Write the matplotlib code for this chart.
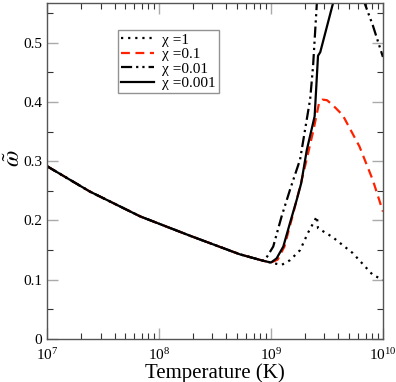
import matplotlib
matplotlib.use('Agg')
import numpy as np
import matplotlib.pyplot as plt
from matplotlib.ticker import LogLocator, MultipleLocator

plt.rcParams['font.family'] = ['Liberation Serif', 'DejaVu Serif']
plt.rcParams['mathtext.fontset'] = 'stix'

# common low-temperature branch (log10 T, omega)
trunk_logT = [7.0, 7.38, 7.83, 8.28, 8.72, 8.93]
trunk_w = [0.2915, 0.249, 0.207, 0.174, 0.143, 0.132]

# chi = 1
c1_logT = [9.02, 9.095, 9.17, 9.26, 9.33, 9.41, 9.42, 9.55, 9.73, 9.91, 10.0]
c1_w = [0.128, 0.125, 0.133, 0.150, 0.179, 0.207, 0.187, 0.172, 0.145, 0.108, 0.10]

# chi = 0.1
c2_logT = [9.0, 9.06, 9.12, 9.2, 9.29, 9.38, 9.43, 9.46, 9.5, 9.55, 9.64, 9.79, 9.91, 10.0]
c2_w = [0.129, 0.134, 0.156, 0.213, 0.28, 0.353, 0.399, 0.404, 0.403, 0.395, 0.378, 0.325, 0.268, 0.215]

# chi = 0.01
c3_logT = [8.946, 9.02, 9.095, 9.17, 9.26, 9.35, 9.376, 9.41, 9.6, 9.75, 9.83, 9.91, 10.0]
c3_w = [0.133, 0.156, 0.207, 0.252, 0.303, 0.405, 0.461, 0.568, 0.68, 0.64, 0.57, 0.529, 0.476]

# chi = 0.001
c4_logT = [9.0, 9.05, 9.11, 9.17, 9.23, 9.27, 9.32, 9.39, 9.42, 9.44, 9.556, 9.7]
c4_w = [0.129, 0.136, 0.156, 0.196, 0.235, 0.263, 0.319, 0.376, 0.478, 0.484, 0.568, 0.66]

labels = ['χ =1', 'χ =0.1', 'χ =0.01', 'χ =0.001']

def full(logT, w):
    x = np.concatenate([trunk_logT, logT])
    y = np.concatenate([trunk_w, w])
    return 10 ** x, y

fig = plt.figure(figsize=(3.96, 3.82), dpi=100)
ax = fig.add_axes([0.119, 0.1126, 0.848, 0.8795])

x, y = full(c1_logT, c1_w)
ax.plot(x, y, color='black', lw=1.6, ls=(0, (1, 2.2)), label=labels[0])
x, y = full(c2_logT, c2_w)
ax.plot(x, y, color='#ff2200', lw=1.6, ls=(0, (4, 2.5)), label=labels[1])
x, y = full(c3_logT, c3_w)
ax.plot(x, y, color='black', lw=1.6, ls=(0, (5, 1.8, 1, 1.8, 1, 1.8)), label=labels[2])
x, y = full(c4_logT, c4_w)
ax.plot(x, y, color='black', lw=1.6, ls='-', label=labels[3])

ax.set_xscale('log')
ax.set_xlim(1e7, 1e10)
ax.set_ylim(0, 0.567)
ax.xaxis.set_major_locator(LogLocator(base=10, numticks=10))
ax.xaxis.set_minor_locator(LogLocator(base=10, subs=np.arange(2, 10), numticks=10))
ax.yaxis.set_minor_locator(MultipleLocator(0.05))
ax.set_yticks([0, 0.1, 0.2, 0.3, 0.4, 0.5])
ax.set_yticklabels(['0', '0.1', '0.2', '0.3', '0.4', '0.5'])

ax.tick_params(which='both', direction='in', top=True, right=True, labelsize=11)
ax.tick_params(which='major', length=8, color='#aaaaaa', width=1)
ax.tick_params(which='minor', length=4, color='#333333', width=0.8)
ax.tick_params(axis='x', pad=6)
for sp in ax.spines.values():
    sp.set_color('#555555')
    sp.set_linewidth(1)

ax.set_xlabel('Temperature (K)', fontsize=15, labelpad=0)
# y label: omega with a tilde
fig.text(14 / 396, 1 - 158 / 382, r'$\tilde{\omega}$', fontsize=17,
         rotation=90, ha='center', va='center')

leg = ax.legend(loc='upper left', bbox_to_anchor=(0.21, 0.92), fontsize=11,
                frameon=True, fancybox=False, edgecolor='#777777',
                handlelength=2.2, handletextpad=0.5, labelspacing=0.05,
                borderpad=0.2, borderaxespad=0)
leg.get_frame().set_linewidth(1)

fig.savefig('out.png', dpi=100)
